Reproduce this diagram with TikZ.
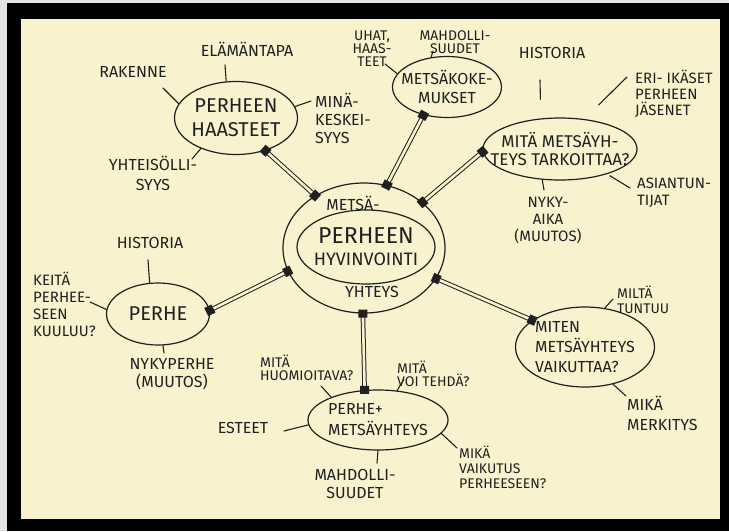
\documentclass[tikz,border=0pt]{standalone}
\usepackage{fontspec}
\setmainfont{Fira Sans}
\usetikzlibrary{shapes.geometric, decorations.markings}
\definecolor{paper}{HTML}{F8F2CE}
\definecolor{ink}{HTML}{202020}
\definecolor{rim}{HTML}{E4E4E4}

\begin{document}
\begin{tikzpicture}[
    x=1pt, y=-1pt,
    bubble/.style={ellipse, draw=ink, line width=1.2pt, inner xsep=-25pt, inner ysep=0pt, text=ink},
    txt/.style={text=ink, inner sep=0pt, align=center, font=\fontsize{16}{18}\selectfont},
    small/.style={txt, font=\fontsize{14}{13}\selectfont},
    tick/.style={draw=ink, line width=1.1pt, line cap=round},
    link/.style={draw=ink, line width=1pt, double=paper, double distance=2.6pt,
        postaction={decorate}, decoration={markings,
        mark=at position 0 with {\fill[ink] (-4pt,-4.5pt) rectangle (4pt,4.5pt);},
        mark=at position 0.999 with {\fill[ink] (-4pt,-4.5pt) rectangle (4pt,4.5pt);}}},
]

% Фон: рамка и лист
\fill[rim] (0,0) rectangle (729,531);
\fill[black] (7,3) rectangle (729,531);
\fill[paper] (21,19) rectangle (720,519);
\useasboundingbox (0,0) rectangle (729,531);

% Центр
\node[bubble, minimum width=162pt, minimum height=130pt] (core) at (364,248) {};
\node[bubble, minimum width=138pt, minimum height=74pt, align=center,
      font=\fontsize{18}{22}\selectfont] (hyvinvointi) at (366,247)
      {{\fontsize{23}{22}\selectfont PERHEEN}\\HYVINVOINTI};
\node[txt] (l-metsa) at (353,203) {METSÄ-};
\node[txt] (l-yhteys) at (372,292) {YHTEYS};

% Ветви
\node[bubble, minimum width=123pt, minimum height=73pt, align=center,
      font=\fontsize{20}{24}\selectfont] (haasteet) at (236,118) {PERHEEN\\HAASTEET};
\node[bubble, minimum width=109pt, minimum height=61pt, align=center,
      font=\fontsize{16}{19}\selectfont] (kokemukset) at (447,87) {METSÄKOKE-\\MUKSET};
\node[bubble, minimum width=154pt, minimum height=62pt, align=center,
      font=\fontsize{17}{18}\selectfont] (tarkoitus) at (560,149) {MITÄ METSÄYH-\\TEYS TARKOITTAA?};
\node[bubble, minimum width=103pt, minimum height=62pt,
      font=\fontsize{20}{24}\selectfont] (perhe) at (158,314) {PERHE};
\node[bubble, minimum width=139pt, minimum height=80pt, align=left,
      font=\fontsize{16}{20}\selectfont] (vaikutus) at (585,347) {MITEN\\METSÄYHTEYS\\VAIKUTTAA?};
\node[bubble, minimum width=140pt, minimum height=60pt, align=left,
      font=\fontsize{16}{21}\selectfont] (perhemetsa) at (378,420) {PERHE+\\METSÄYHTEYS};

% Связи с центром
\draw[link] (core.133) -- (haasteet.-48);
\draw[link] (core.70) -- (kokemukset.-130);
\draw[link] (core.38) -- (tarkoitus.182);
\draw[link] (core.197) -- (perhe.4);
\draw[link] (core.-23) -- (vaikutus.153);
\draw[link] (core.-91) -- (perhemetsa.114);

% Подписи: perheen haasteet
\node[txt] (l-elama) at (247,49) {ELÄMÄNTAPA};
\node[txt] (l-rakenne) at (133,72) {RAKENNE};
\node[txt, anchor=west, align=left] (l-mina) at (315,118) {MINÄ-\\KESKEI-\\SYYS};
\node[txt, font=\fontsize{16}{20}\selectfont] (l-yhteis) at (153,173) {YHTEISÖLLI-\\SYYS};
\coordinate (c-elama) at (225,65);
\coordinate (c-rakenne) at (163,88);
\coordinate (c-mina) at (311,101);
\coordinate (c-yhteis) at (192,159);
\draw[tick] (haasteet.105) -- (c-elama);
\draw[tick] (haasteet.166) -- (c-rakenne);
\draw[tick] (haasteet.11) -- (c-mina);
\draw[tick] (haasteet.-139) -- (c-yhteis);

% Подписи: metsäkokemukset
\node[small] (l-uhat) at (372,49) {UHAT,\\HAAS-\\TEET};
\node[small] (l-mahd1) at (455,42) {MAHDOLLI-\\SUUDET};
\coordinate (c-uhat) at (385,64);
\coordinate (c-mahd1) at (433,51);
\draw[tick] (kokemukset.165) -- (c-uhat);
\draw[tick] (kokemukset.118) -- (c-mahd1);

% Подписи: mitä metsäyhteys tarkoittaa
\node[txt] (l-hist1) at (552,53) {HISTORIA};
\node[txt, anchor=west, align=left, font=\fontsize{15}{16}\selectfont] (l-eri) at (635,94)
      {ERI- IKÄSET\\PERHEEN\\JÄSENET};
\node[txt, font=\fontsize{15}{17}\selectfont] (l-nyky) at (548,220) {NYKY-\\AIKA\\(MUUTOS)};
\node[txt, anchor=west, align=left, font=\fontsize{15}{17}\selectfont] (l-asian) at (637,193)
      {ASIANTUN-\\TIJAT};
\coordinate (c-hist1) at (540,80);
\coordinate (c-eri) at (627,77);
\coordinate (c-nyky) at (544,190);
\coordinate (c-asian) at (630,188);
\draw[tick, shorten <=19pt] (tarkoitus.122) -- (c-hist1);
\draw[tick, shorten <=20pt] (tarkoitus.51) -- (c-eri);
\draw[tick] (tarkoitus.-120) -- (c-nyky);
\draw[tick, shorten <=3pt] (tarkoitus.-28) -- (c-asian);

% Подписи: perhe
\node[txt] (l-hist2) at (150,243) {HISTORIA};
\node[txt, anchor=west, align=left, font=\fontsize{15}{17}\selectfont] (l-keita) at (33,304)
      {KEITÄ\\PERHEE-\\SEEN\\KUULUU?};
\node[txt] (l-nykyp) at (172,374) {NYKYPERHE\\(MUUTOS)};
\coordinate (c-hist2) at (148,260);
\coordinate (c-keita) at (90,302);
\coordinate (c-nykyp) at (164,353);
\draw[tick] (perhe.105) -- (c-hist2);
\draw[tick] (perhe.175) -- (c-keita);
\draw[tick] (perhe.-81) -- (c-nykyp);

% Подписи: miten metsäyhteys vaikuttaa
\node[txt, anchor=west, align=left, font=\fontsize{14}{15}\selectfont] (l-milta) at (617,300)
      {MILTÄ\\TUNTUU};
\node[txt, anchor=west, align=left, font=\fontsize{16}{20}\selectfont] (l-mika) at (627,413)
      {MIKÄ\\MERKITYS};
\coordinate (c-milta) at (613,299);
\coordinate (c-mika) at (626,396);
\draw[tick] (vaikutus.63) -- (c-milta);
\draw[tick] (vaikutus.-53) -- (c-mika);

% Подписи: perhe + metsäyhteys
\node[small, anchor=west, align=left] (l-huom) at (260,368) {MITÄ\\HUOMIOITAVA?};
\node[small, anchor=west, align=left] (l-tehda) at (397,374) {MITÄ\\VOI TEHDÄ?};
\node[txt] (l-esteet) at (243,428) {ESTEET};
\node[txt] (l-mahd2) at (355,484) {MAHDOLLI-\\SUUDET};
\node[txt, anchor=west, align=left, font=\fontsize{14}{15}\selectfont] (l-vaik) at (459,467)
      {MIKÄ\\VAIKUTUS\\PERHEESEEN?};
\coordinate (c-huom) at (321,386);
\coordinate (c-tehda) at (404,379);
\coordinate (c-esteet) at (284,431);
\coordinate (c-mahd2) at (377,463);
\coordinate (c-vaik) at (457,448);
\draw[tick] (perhemetsa.154) -- (c-huom);
\draw[tick] (perhemetsa.57) -- (c-tehda);
\draw[tick] (perhemetsa.184) -- (c-esteet);
\draw[tick] (perhemetsa.-90) -- (c-mahd2);
\draw[tick] (perhemetsa.-12) -- (c-vaik);

\end{tikzpicture}
\end{document}
